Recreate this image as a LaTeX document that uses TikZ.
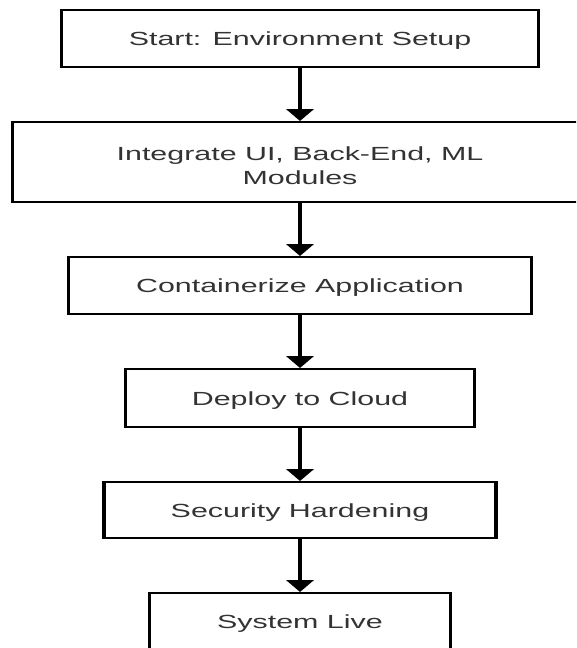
\documentclass[tikz,border=0pt]{standalone}
\usepackage{fontspec}
\setmainfont{Liberation Sans}
\usetikzlibrary{arrows.meta}
\definecolor{textgrey}{HTML}{333333}
% invisible strut that pushes a label slightly down inside its box
\newcommand\tallstrut[1]{\rule{0pt}{#1}}
\begin{document}
\begin{tikzpicture}[x=1pt,y=-1pt,
  stepbox/.style={draw=black, line width=2pt, fill=white, inner sep=0pt,
    align=center, text=textgrey, font=\fontsize{19}{24}\selectfont},
  flow/.style={draw=black, line width=2.3pt, -{Triangle[width=17pt,length=12pt]}}]
  % page frame
  \useasboundingbox (0,0) rectangle (576,648);
  \clip (0,0) rectangle (576,648);
  \fill[white] (0,0) rectangle (576,648);
  % the flowchart is laid out around x = 0 and stretched horizontally
  \begin{scope}[transform canvas={shift={(300,0)}, xscale=1.6}]
    \node[stepbox, minimum width=298pt, minimum height=57pt] (setup) at (0,38.5)
      {\tallstrut{18pt}Start: Environment Setup};
    \node[stepbox, minimum width=359pt, minimum height=80pt] (integrate) at (0,162)
      {\tallstrut{22pt}Integrate UI, Back-End, ML\\Modules};
    \node[stepbox, minimum width=289pt, minimum height=57pt] (container) at (0,285.5)
      {\tallstrut{18pt}Containerize Application};
    \node[stepbox, minimum width=218pt, minimum height=58pt] (deploy) at (0,398)
      {\tallstrut{18pt}Deploy to Cloud};
    \node[stepbox, minimum width=245pt, minimum height=56pt] (harden) at (0,510)
      {\tallstrut{18pt}Security Hardening};
    \node[stepbox, minimum width=188pt, minimum height=57pt] (live) at (0,621.5)
      {\tallstrut{18pt}System Live};
    \draw[flow] (setup) -- (integrate);
    \draw[flow] (integrate) -- (container);
    \draw[flow] (container) -- (deploy);
    \draw[flow] (deploy) -- (harden);
    \draw[flow] (harden) -- (live);
  \end{scope}
\end{tikzpicture}
\end{document}
